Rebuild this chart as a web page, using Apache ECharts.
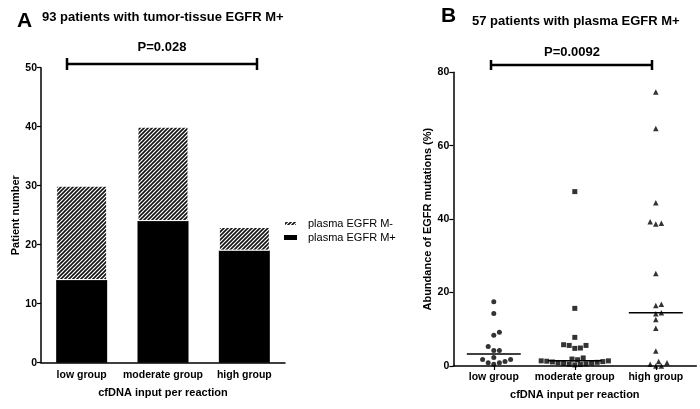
<!DOCTYPE html>
<html>
<head>
<meta charset="utf-8">
<script src="https://cdn.jsdelivr.net/npm/echarts@6/dist/echarts.min.js"></script>
<style>
html,body{margin:0;padding:0;background:#fff;}
#c{width:700px;height:409px;}
</style>
</head>
<body>
<div id="c"></div>
<script>
// ---------- data ----------
const categories = ['low group', 'moderate group', 'high group'];
const plasmaMPlus = [14, 24, 19];
const plasmaMMinus = [16, 16, 4];
const countTicksA = [0, 10, 20, 30, 40, 50];
const abundTicksB = [0, 20, 40, 60, 80];
const lowAbund = [17.5, 14.3, 9.2, 8.4, 5.3, 4.2, 4.2, 2.3, 1.8, 1.8, 1.2, 0.9, 0.9, 0.5];
const moderateAbund = [47.5, 15.7, 7.8, 5.8, 5.6, 5.6, 4.9, 4.8, 2.2, 1.9, 1.7, 1.4, 1.4, 1.3, 1.2, 1.1, 1.0, 0.9, 0.8, 0.7, 0.6, 0.5, 0.4, 0.3];
const highAbund = [74.6, 64.7, 44.5, 39.3, 38.9, 38.7, 25.2, 16.8, 16.5, 14.5, 14.2, 12.7, 10.3, 4.1, 1.2, 0.9, 0.5, 0.0, 0.0];
const pValueA = 'P=0.028';
const pValueB = 'P=0.0092';

// ---------- helpers ----------
const FONT = '"Liberation Sans", Arial, Helvetica, sans-serif';
function median(arr) {
  const s = arr.slice().sort((a, b) => a - b);
  const n = s.length;
  return n % 2 ? s[(n - 1) / 2] : (s[n / 2 - 1] + s[n / 2]) / 2;
}
function makeHatch() {
  const c = document.createElement('canvas');
  c.width = 4; c.height = 4;
  const g = c.getContext('2d');
  g.fillStyle = '#fff';
  g.fillRect(0, 0, 4, 4);
  g.strokeStyle = '#111';
  g.lineWidth = 1.6;
  g.beginPath();
  g.moveTo(0, 4); g.lineTo(4, 0);
  g.moveTo(-1, 1); g.lineTo(1, -1);
  g.moveTo(3, 5); g.lineTo(5, 3);
  g.stroke();
  return c;
}
// beeswarm horizontal offsets (layout only; overlap partially allowed)
function swarm(values, pxPerUnit, d, step) {
  const idx = values.map((v, i) => i).sort((a, b) => values[a] - values[b]);
  const placed = [];
  const off = new Array(values.length).fill(0);
  idx.forEach(i => {
    const y = values[i] * pxPerUnit;
    for (let k = 0; k < 80; k++) {
      const s = Math.ceil(k / 2) * (k % 2 ? 1 : -1);
      const dx = s * step;
      let ok = true;
      for (const p of placed) {
        const ddx = dx - p[0], ddy = y - p[1];
        if (ddx * ddx + ddy * ddy < d * d) { ok = false; break; }
      }
      if (ok) { off[i] = dx; placed.push([dx, y]); break; }
    }
  });
  return off;
}

const gridA = { left: 41, top: 67.7, width: 244, height: 295 };
const gridB = { left: 453.3, top: 72.3, width: 243, height: 293.7 };
const pxPerUnitB = gridB.height / 80;
const SYM = 5;

function scatterData(values, catIdx) {
  const off = swarm(values, pxPerUnitB, 5.2, 2.8);
  return values.map((v, i) => ({ value: [catIdx, v], symbolOffset: [off[i], 0] }));
}

const hatch = makeHatch();
const chart = echarts.init(document.getElementById('c'), null, { renderer: 'canvas' });

const axisLineStyle = { color: '#000', width: 1.5 };
const tickLabel = { color: '#000', fontFamily: FONT, fontWeight: 'bold', fontSize: 10.5 };
const nameStyle = { color: '#000', fontFamily: FONT, fontWeight: 'bold', fontSize: 11 };

function bracket(x1, x2, y, h1, h2) {
  const st = { stroke: '#000', lineWidth: 2.5 };
  return [
    { type: 'line', shape: { x1: x1, y1: y, x2: x2, y2: y }, style: st },
    { type: 'line', shape: { x1: x1, y1: h1, x2: x1, y2: h2 }, style: st },
    { type: 'line', shape: { x1: x2, y1: h1, x2: x2, y2: h2 }, style: st }
  ];
}

const option = {
  animation: false,
  backgroundColor: '#fff',
  textStyle: { fontFamily: FONT },
  grid: [
    Object.assign({ outerBoundsMode: 'none', containLabel: false }, gridA),
    Object.assign({ outerBoundsMode: 'none', containLabel: false }, gridB)
  ],
  legend: {
    data: ['plasma EGFR M-', 'plasma EGFR M+'],
    orient: 'vertical',
    left: 278,
    top: 213,
    itemWidth: 13,
    itemHeight: 5,
    itemGap: 3,
    icon: 'rect',
    textStyle: { color: '#000', fontFamily: FONT, fontSize: 11, padding: [0, 0, 0, 6] },
    selectedMode: false
  },
  xAxis: [
    {
      gridIndex: 0, type: 'category', data: categories,
      axisLine: { lineStyle: axisLineStyle },
      axisTick: { show: false },
      axisLabel: Object.assign({ margin: 7, interval: 0 }, tickLabel),
      name: 'cfDNA input per reaction', nameLocation: 'middle', nameGap: 24.5,
      nameTextStyle: nameStyle
    },
    {
      gridIndex: 1, type: 'category', data: categories,
      axisLine: { lineStyle: axisLineStyle },
      axisTick: { show: true, alignWithLabel: true, length: 4, lineStyle: { color: '#000', width: 1.2 } },
      axisLabel: Object.assign({ margin: 6, interval: 0 }, tickLabel),
      name: 'cfDNA input per reaction', nameLocation: 'middle', nameGap: 23.5,
      nameTextStyle: nameStyle
    }
  ],
  yAxis: [
    {
      gridIndex: 0, type: 'value', min: countTicksA[0], max: countTicksA[countTicksA.length - 1],
      interval: countTicksA[1] - countTicksA[0],
      axisLine: { show: true, lineStyle: axisLineStyle },
      axisTick: { show: true, length: 4, lineStyle: { color: '#000', width: 1.2 } },
      axisLabel: Object.assign({ margin: 4 }, tickLabel),
      splitLine: { show: false },
      name: 'Patient number', nameLocation: 'middle', nameGap: 19,
      nameTextStyle: nameStyle
    },
    {
      gridIndex: 1, type: 'value', min: abundTicksB[0], max: abundTicksB[abundTicksB.length - 1],
      interval: abundTicksB[1] - abundTicksB[0],
      axisLine: { show: true, lineStyle: axisLineStyle },
      axisTick: { show: true, length: 4, lineStyle: { color: '#000', width: 1.2 } },
      axisLabel: Object.assign({ margin: 4 }, tickLabel),
      splitLine: { show: false },
      name: 'Abundance of EGFR mutations (%)', nameLocation: 'middle', nameGap: 19.5,
      nameTextStyle: nameStyle
    }
  ],
  series: [
    {
      name: 'plasma EGFR M+', type: 'bar', stack: 'a', xAxisIndex: 0, yAxisIndex: 0,
      data: plasmaMPlus, barWidth: 51,
      itemStyle: { color: '#000' }
    },
    {
      name: 'plasma EGFR M-', type: 'bar', stack: 'a', xAxisIndex: 0, yAxisIndex: 0,
      data: plasmaMMinus, barWidth: 51,
      itemStyle: { color: { image: hatch, repeat: 'repeat' }, borderColor: '#fff', borderWidth: 1 }
    },
    {
      type: 'scatter', xAxisIndex: 1, yAxisIndex: 1, symbol: 'circle', symbolSize: SYM,
      itemStyle: { color: '#000' }, data: scatterData(lowAbund, 0)
    },
    {
      type: 'scatter', xAxisIndex: 1, yAxisIndex: 1, symbol: 'rect', symbolSize: SYM,
      itemStyle: { color: '#000' }, data: scatterData(moderateAbund, 1)
    },
    {
      type: 'scatter', xAxisIndex: 1, yAxisIndex: 1, symbol: 'triangle', symbolSize: SYM + 0.5,
      itemStyle: { color: '#000' }, data: scatterData(highAbund, 2)
    },
    {
      type: 'custom', xAxisIndex: 1, yAxisIndex: 1,
      data: [[0, median(lowAbund)], [1, median(moderateAbund)], [2, median(highAbund)]],
      renderItem: function (params, api) {
        const p = api.coord([api.value(0), api.value(1)]);
        const half = api.size([1, 0])[0] * 0.333;
        return {
          type: 'line',
          shape: { x1: p[0] - half, y1: p[1], x2: p[0] + half, y2: p[1] },
          style: { stroke: '#000', lineWidth: 1.5 }
        };
      },
      z: 5
    }
  ],
  graphic: [
    { type: 'text', left: 17, top: 11, style: { text: 'A', font: 'bold 21px ' + FONT, fill: '#000' } },
    { type: 'text', left: 42, top: 11, style: { text: '93 patients with tumor-tissue EGFR M+', font: 'bold 13px ' + FONT, fill: '#000' } },
    { type: 'text', left: 441, top: 6, style: { text: 'B', font: 'bold 21px ' + FONT, fill: '#000' } },
    { type: 'text', left: 472, top: 15, style: { text: '57 patients with plasma EGFR M+', font: 'bold 13px ' + FONT, fill: '#000' } },
    { type: 'text', x: 162, y: 47, style: { text: pValueA, font: 'bold 13px ' + FONT, fill: '#000', align: 'center', verticalAlign: 'middle' } },
    { type: 'text', x: 572, y: 52, style: { text: pValueB, font: 'bold 13px ' + FONT, fill: '#000', align: 'center', verticalAlign: 'middle' } }
  ].concat(bracket(67, 257, 64, 58, 70), bracket(491, 652, 65, 60, 70))
};
chart.setOption(option);
</script>
</body>
</html>
